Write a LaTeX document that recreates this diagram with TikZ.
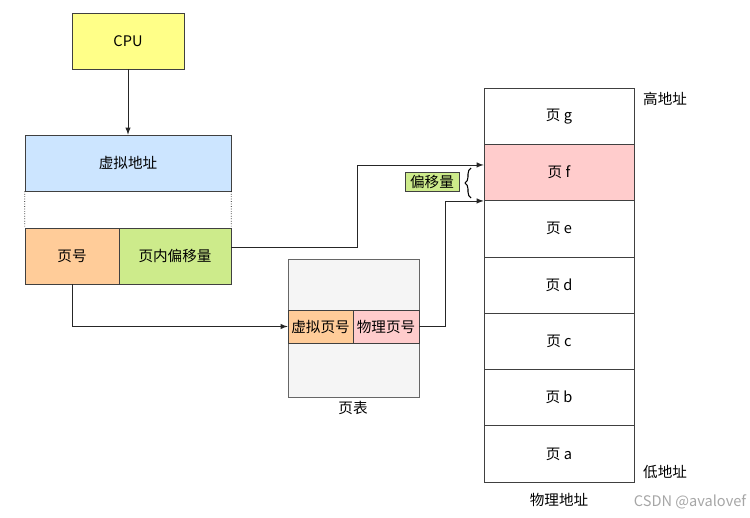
\documentclass[tikz,border=0pt]{standalone}
\usepackage{fontspec}
\setmainfont{Noto Sans CJK SC}
\usetikzlibrary{positioning}
\usetikzlibrary{decorations.pathreplacing}

\definecolor{cpuyellow}{HTML}{FFFF88}
\definecolor{vablue}{HTML}{CCE5FF}
\definecolor{pageorange}{HTML}{FFCC99}
\definecolor{offsetgreen}{HTML}{CDEB8B}
\definecolor{framepink}{HTML}{FFCCCC}
\definecolor{tablegray}{HTML}{F5F5F5}

\begin{document}
\begin{tikzpicture}[x=0.02cm, y=-0.02cm, font=\fontsize{8.3}{10}\selectfont,
box/.style = {draw=black!75, rectangle, inner sep=0pt},
link/.style = {draw=black!85, -latex},
frame/.style = {box, minimum width=3cm, minimum height=1.126cm}]

\useasboundingbox (0,0) rectangle (750,517);

\node[box, fill=cpuyellow, minimum width=2.24cm, minimum height=1.12cm] (cpu) at (128,41) {CPU};
\node[box, fill=vablue, minimum width=4.12cm, minimum height=1.12cm] (va) at (128,163) {虚拟地址};
\node[box, fill=pageorange, minimum width=1.88cm, minimum height=1.12cm] (page number) at (72,256) {页号};
\node[box, fill=offsetgreen, minimum width=2.24cm, minimum height=1.12cm] (offset) at (175,256) {页内偏移量};

\node[box, draw=black!60, fill=tablegray, minimum width=2.62cm, minimum height=2.76cm] (table) at (353.5,328) {};
\node[box, fill=pageorange, minimum width=1.3cm, minimum height=0.66cm] (vpn) at (320.5,326.5) {虚拟页号};
\node[box, fill=framepink, minimum width=1.32cm, minimum height=0.66cm] (ppn) at (386,326.5) {物理页号};
\node (table label) at (353,408) {页表};

\foreach \name/\col [count=\i from 0] in {g/white, f/framepink, e/white, d/white, c/white, b/white, a/white}
  \node[frame, fill=\col] (page \name) at (559, {88+56.3*\i+28.15}) {页 \name};

\node[anchor=west] (high) at (637,99) {高地址};
\node[anchor=west] (low) at (637,472) {低地址};
\node (memory label) at (559,500) {物理地址};

\node[box, fill=offsetgreen, minimum width=1.08cm, minimum height=0.38cm] (offset label) at (432,181.5) {偏移量};
\draw[line width=0.6pt, decorate, decoration={brace, amplitude=0.12cm}] (471,198) -- (471,168);

\draw[link] (cpu) -- (va);
\draw[densely dotted] (va.south west) -- (page number.north west);
\draw[densely dotted] (va.south east) -- (offset.north east);
\draw[link] ([yshift=0.18cm]offset.east) -- ++(126,0) |- ([yshift=0.15cm]page f.west);
\draw[link] (page number.south) |- (vpn.west);
\draw[link] (ppn.east) -- ++(26,0) |- (page f.south west);

\node[text=black!35] (mark) at (690,502) {CSDN @avalovef};

\end{tikzpicture}
\end{document}
